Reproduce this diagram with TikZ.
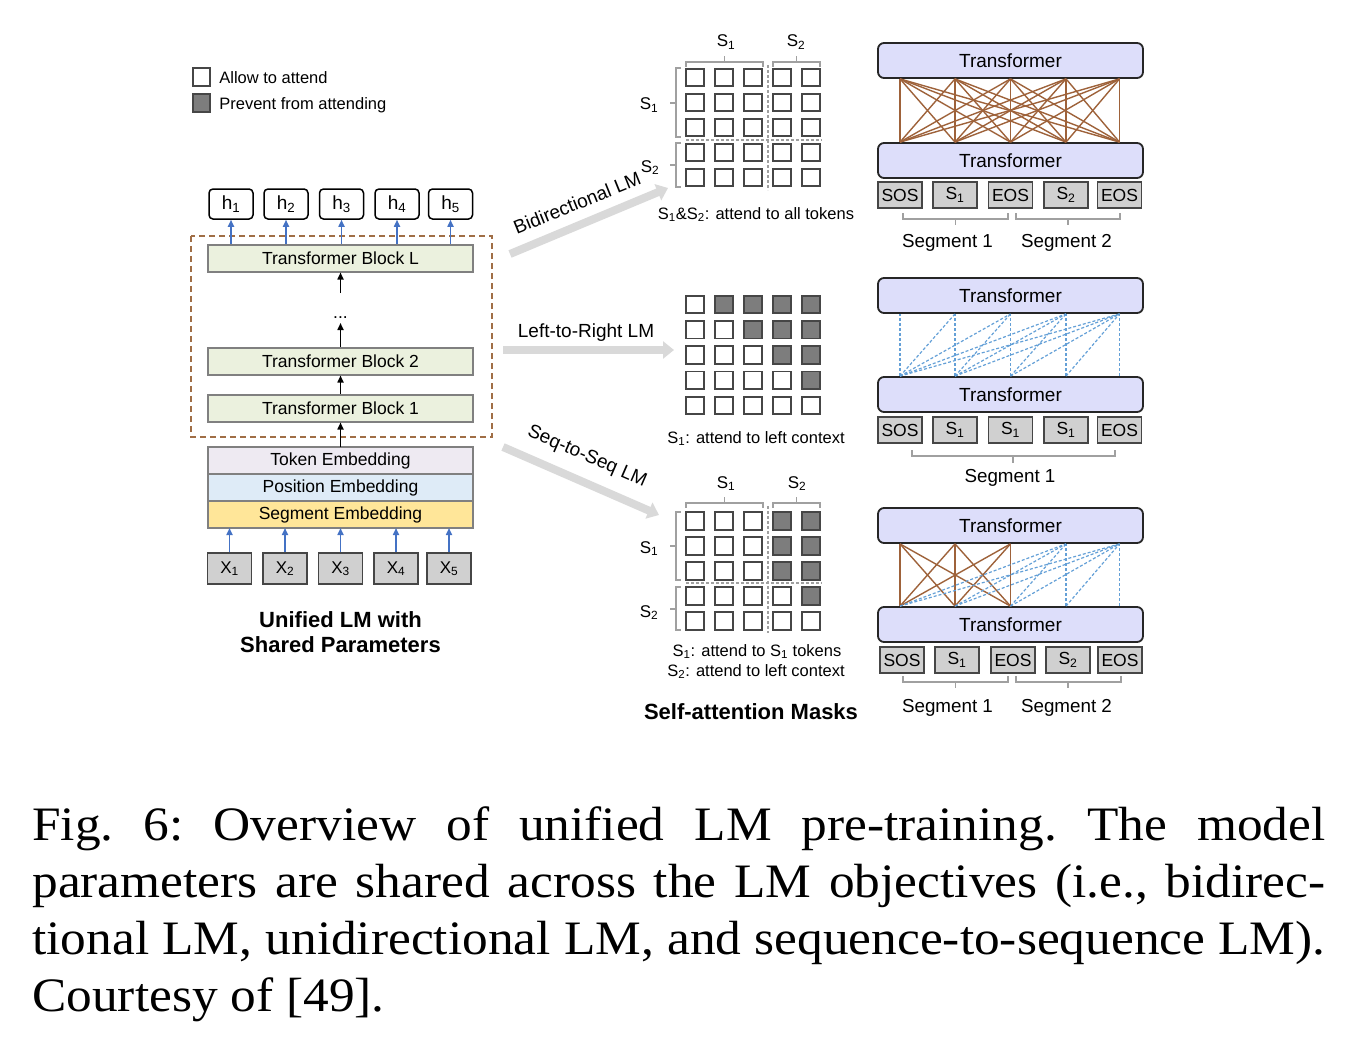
\documentclass[tikz,border=0pt]{standalone}
\usepackage{fontspec}
\setmainfont{Liberation Sans}
\newfontfamily\capfont[FakeStretch=1.07]{Liberation Serif}
\usetikzlibrary{arrows.meta,positioning}

\definecolor{tfFill}{RGB}{221,222,250}
\definecolor{blockFill}{RGB}{235,241,222}
\definecolor{tokFill}{RGB}{238,234,242}
\definecolor{posFill}{RGB}{222,235,247}
\definecolor{segFill}{RGB}{255,230,153}
\definecolor{boxGray}{RGB}{128,128,128}
\definecolor{inGray}{RGB}{208,208,208}
\definecolor{inLine}{RGB}{70,70,70}
\definecolor{maskGray}{RGB}{125,125,125}
\definecolor{attnBrown}{RGB}{158,98,58}
\definecolor{attnBlue}{RGB}{100,160,215}
\definecolor{arrBlue}{RGB}{68,114,196}
\definecolor{frameBrown}{RGB}{160,110,70}
\definecolor{bigGray}{RGB}{217,217,217}
\definecolor{brkGray}{RGB}{160,160,160}

\tikzset{every picture/.style={line width=0.75pt}}
\tikzset{
  lbl/.style={inner sep=0pt, font=\fontsize{#1}{#1}\selectfont},
  legbox/.style={draw=inLine, line width=1.8, minimum size=17.5, inner sep=0},
  hbox/.style={draw, rounded corners=4, line width=1.5, minimum width=44, minimum height=30, inner sep=0, lbl=19},
  blockbox/.style={draw=boxGray, fill=blockFill, line width=2, minimum width=265, minimum height=27, inner sep=0, lbl=17.5},
  embbox/.style={draw=boxGray, line width=2, minimum width=265, minimum height=27, inner sep=0, outer sep=0, lbl=17.5},
  xbox/.style={draw=inLine, fill=inGray, line width=1.5, minimum width=44, minimum height=31, inner sep=0, lbl=17},
  tfbox/.style={draw=black!85, fill=tfFill, rounded corners=6, line width=1.8, minimum width=265, minimum height=35, inner sep=0, lbl=19},
  tokbox/.style={draw=inLine, fill=inGray, line width=1.5, minimum width=44, minimum height=26, inner sep=0, lbl=17.5},
  maskcell/.style={draw=inLine, fill=white, line width=1.8, minimum size=17.5, inner sep=0},
  bracket/.style={draw=brkGray, line width=1.5},
  sepline/.style={draw=brkGray, line width=1.2, dash pattern=on 3pt off 2pt},
  fullattn/.style={draw=attnBrown, line width=1.4},
  leftattn/.style={draw=attnBlue, line width=1.2, dash pattern=on 3pt off 2pt},
  bigarr/.style={draw=bigGray, line width=8, -{Triangle[length=11pt,width=17pt]}},
  uparr/.style={line width=1.6, -{Triangle[length=7pt,width=6pt]}},
  bluearr/.style={uparr, draw=arrBlue},
}

\begin{document}
\begin{tikzpicture}[x=1pt,y=1pt,yscale=-1]
\useasboundingbox (0,0) rectangle (1372,1038);

% Legend
\node[legbox,fill=white] (allowsq) at (201.5,77) {};
\node[legbox,fill=maskGray] (preventsq) at (201.5,103) {};
\node[lbl=16.5,anchor=base west] (allowtxt) at (219,84) {Allow to attend};
\node[lbl=16.5,anchor=base west] (preventtxt) at (219,110) {Prevent from attending};

% Shared parameters frame
\draw[frameBrown, line width=1.8, dash pattern=on 6pt off 4pt] (191,236) rectangle (492,437);

% Outputs
\node[hbox] (h1) at (231,204) {h\textsubscript{1}};
\node[hbox] (h2) at (286,204) {h\textsubscript{2}};
\node[hbox] (h3) at (341.5,204) {h\textsubscript{3}};
\node[hbox] (h4) at (397,204) {h\textsubscript{4}};
\node[hbox] (h5) at (450.5,204) {h\textsubscript{5}};

% Transformer blocks
\node[blockbox] (blkL) at (340.5,258) {Transformer Block L};
\node[lbl=17.5] (dots) at (340.5,318) {...};
\coordinate (dotsTop) at (340.5,293);
\coordinate (dotsBot) at (340.5,323);
\node[blockbox] (blk2) at (340.5,361) {Transformer Block 2};
\node[blockbox] (blk1) at (340.5,408) {Transformer Block 1};

% Embeddings
\node[embbox,fill=tokFill] (tokemb) at (340.5,460.5) {Token Embedding};
\node[embbox,fill=posFill,below=0pt of tokemb] (posemb) {Position Embedding};
\node[embbox,fill=segFill,below=0pt of posemb] (segemb) {Segment Embedding};

% Inputs
\node[xbox] (x1) at (229.5,568.5) {X\textsubscript{1}};
\node[xbox] (x2) at (285,568.5) {X\textsubscript{2}};
\node[xbox] (x3) at (340.5,568.5) {X\textsubscript{3}};
\node[xbox] (x4) at (396,568.5) {X\textsubscript{4}};
\node[xbox] (x5) at (449,568.5) {X\textsubscript{5}};

% Arrows
\foreach \i in {1,...,5}{
  \draw[bluearr] (h\i.south |- blkL.north) -- (h\i.south);
  \draw[bluearr] (x\i.north) -- (x\i.north |- segemb.south);
}
\draw[uparr] (tokemb.north) -- (blk1.south);
\draw[uparr] (blk1.north) -- (blk2.south);
\draw[uparr] (blk2.north) -- (dotsBot);
\draw[uparr] (dotsTop) -- (blkL.south);

% Text Node
\node[lbl=22,font=\fontsize{22}{25}\selectfont\bfseries,align=center] (unified) at (340.5,632.5) {Unified LM with\\Shared Parameters};

% LM objectives
\coordinate (biStart) at (510,254);
\coordinate (biEnd) at (668,188);
\coordinate (lrStart) at (503,350);
\coordinate (lrEnd) at (674,350);
\coordinate (ssStart) at (503,447);
\coordinate (ssEnd) at (659,515);
\draw[bigarr] (biStart) -- (biEnd);
\draw[bigarr] (lrStart) -- (lrEnd);
\draw[bigarr] (ssStart) -- (ssEnd);
\node[lbl=19,rotate=22] (biLabel) at (577,203) {Bidirectional LM};
\node[lbl=19,anchor=base] (lrLabel) at (586,337) {Left-to-Right LM};
\node[lbl=19,rotate=-23.5] (ssLabel) at (587,457) {Seq-to-Seq LM};

% Mask: bidirectional
\draw[sepline] (768,65) -- (768,190);
\draw[sepline] (686,140) -- (822,140);
\foreach \r in {1,...,5}
  \foreach \c in {1,...,5}
    \node[maskcell] (mA-\r-\c) at ({695+29*(\c-1)},{77.5+25*(\r-1)}) {};
\draw[bracket] (686,67) -- (686,62) -- (763,62) -- (763,67) (724.5,62) -- (724.5,56);
\draw[bracket] (773,67) -- (773,62) -- (820,62) -- (820,67) (796.5,62) -- (796.5,56);
\draw[bracket] (681,68) -- (676,68) -- (676,137) -- (681,137) (676,103) -- (670,103);
\draw[bracket] (681,143) -- (676,143) -- (676,187) -- (681,187) (676,165) -- (670,165);
\node[lbl=17,anchor=base] (aS1top) at (726,47) {S\textsubscript{1}};
\node[lbl=17,anchor=base] (aS2top) at (796,47) {S\textsubscript{2}};
\node[lbl=17,anchor=base] (aS1left) at (649,110) {S\textsubscript{1}};
\node[lbl=17,anchor=base] (aS2left) at (650,172) {S\textsubscript{2}};
\node[lbl=16.5,anchor=base] (aNote) at (756,219) {S\textsubscript{1}\&S\textsubscript{2}: attend to all tokens};

% Mask: left-to-right
\foreach \r in {1,...,5}
  \foreach \c in {1,...,5}{
    \ifnum\c>\r \def\cellfill{maskGray}\else\def\cellfill{white}\fi
    \node[maskcell,fill=\cellfill] (mB-\r-\c) at ({695+29*(\c-1)},{304.5+25.25*(\r-1)}) {};
  }
\node[lbl=16.5,anchor=base] (bNote) at (756,443) {S\textsubscript{1}: attend to left context};

% Mask: seq-to-seq
\draw[sepline] (768,506) -- (768,633);
\draw[sepline] (686,583) -- (822,583);
\foreach \r in {1,...,5}
  \foreach \c in {1,...,5}{
    \def\cellfill{white}
    \ifnum\c>3 \ifnum\c>\r \def\cellfill{maskGray}\fi\fi
    \node[maskcell,fill=\cellfill] (mC-\r-\c) at ({695+29*(\c-1)},{521+25*(\r-1)}) {};
  }
\draw[bracket] (686,508) -- (686,503) -- (763,503) -- (763,508) (724.5,503) -- (724.5,497);
\draw[bracket] (773,508) -- (773,503) -- (820,503) -- (820,508) (796.5,503) -- (796.5,497);
\draw[bracket] (681,512) -- (676,512) -- (676,580) -- (681,580) (676,546) -- (670,546);
\draw[bracket] (681,587) -- (676,587) -- (676,630) -- (681,630) (676,609) -- (670,609);
\node[lbl=17,anchor=base] (cS1top) at (726,488) {S\textsubscript{1}};
\node[lbl=17,anchor=base] (cS2top) at (797,488) {S\textsubscript{2}};
\node[lbl=17,anchor=base] (cS1left) at (649,553) {S\textsubscript{1}};
\node[lbl=17,anchor=base] (cS2left) at (649,617) {S\textsubscript{2}};
\node[lbl=16.5,anchor=base] (cNote1) at (757,656) {S\textsubscript{1}: attend to S\textsubscript{1} tokens};
\node[lbl=16.5,anchor=base] (cNote2) at (756,676) {S\textsubscript{2}: attend to left context};
\node[lbl=22,font=\fontsize{22}{22}\selectfont\bfseries,anchor=base] (maskTitle) at (751,719) {Self-attention Masks};

% Panel A: bidirectional
\node[tfbox] (aTop) at (1010.5,60.5) {Transformer};
\node[tfbox] (aBot) at (1010.5,160.5) {Transformer};
\node[tokbox] (tokA1) at (900,195) {SOS};
\node[tokbox] (tokA2) at (955,195) {S\textsubscript{1}};
\node[tokbox] (tokA3) at (1010.5,195) {EOS};
\node[tokbox] (tokA4) at (1066,195) {S\textsubscript{2}};
\node[tokbox] (tokA5) at (1119.5,195) {EOS};
\foreach \i in {1,...,5}
  \foreach \j in {1,...,5}
    \draw[fullattn] (tokA\i |- aBot.north) -- (tokA\j |- aTop.south);
\draw[bracket] (903,213) -- (903,219) -- (1008,219) -- (1008,213) (955.5,219) -- (955.5,225);
\draw[bracket] (1016,213) -- (1016,219) -- (1120,219) -- (1120,213) (1068,219) -- (1068,225);
\node[lbl=18.8,anchor=base] (aSeg1) at (947.5,247) {Segment 1};
\node[lbl=18.8,anchor=base] (aSeg2) at (1066.5,247) {Segment 2};

% Panel B: left-to-right
\node[tfbox] (bTop) at (1010.5,295.5) {Transformer};
\node[tfbox] (bBot) at (1010.5,394.5) {Transformer};
\node[tokbox] (tokB1) at (900,430) {SOS};
\node[tokbox] (tokB2) at (955,430) {S\textsubscript{1}};
\node[tokbox] (tokB3) at (1010.5,430) {S\textsubscript{1}};
\node[tokbox] (tokB4) at (1066,430) {S\textsubscript{1}};
\node[tokbox] (tokB5) at (1119.5,430) {EOS};
\foreach \i in {1,...,5}
  \foreach \j in {\i,...,5}
    \draw[leftattn] (tokB\i |- bBot.north) -- (tokB\j |- bTop.south);
\draw[bracket] (912,450) -- (912,456) -- (1115,456) -- (1115,450) (1013,456) -- (1013,463);
\node[lbl=18.8,anchor=base] (bSeg1) at (1010,482) {Segment 1};

% Panel C: seq-to-seq
\node[tfbox] (cTop) at (1010.5,525.5) {Transformer};
\node[tfbox] (cBot) at (1010.5,624.5) {Transformer};
\node[tokbox] (tokC1) at (902,660) {SOS};
\node[tokbox] (tokC2) at (957,660) {S\textsubscript{1}};
\node[tokbox] (tokC3) at (1013,660) {EOS};
\node[tokbox] (tokC4) at (1068,660) {S\textsubscript{2}};
\node[tokbox] (tokC5) at (1120,660) {EOS};
\foreach \i in {1,2,3}
  \foreach \j in {1,2,3}
    \draw[fullattn] (tokA\i |- cBot.north) -- (tokA\j |- cTop.south);
\foreach \j in {4,5}
  \foreach \i in {1,...,\j}
    \draw[leftattn] (tokA\i |- cBot.north) -- (tokA\j |- cTop.south);
\draw[bracket] (903,676) -- (903,682) -- (1008,682) -- (1008,676) (955.5,682) -- (955.5,688);
\draw[bracket] (1016,676) -- (1016,682) -- (1121,682) -- (1121,676) (1068,682) -- (1068,688);
\node[lbl=18.8,anchor=base] (cSeg1) at (947.5,712) {Segment 1};
\node[lbl=18.8,anchor=base] (cSeg2) at (1066.5,712) {Segment 2};

% Caption
\node[anchor=north west, inner sep=0pt, align=left,
      font=\capfont\fontsize{48}{57}\selectfont\frenchspacing] (caption) at (32,806)
  {\makebox[1293pt][s]{Fig.~6: Overview of unified LM pre-training. The model}\\
   \makebox[1293pt][s]{parameters are shared across the LM objectives (i.e., bidirec-}\\
   \makebox[1293pt][s]{tional LM, unidirectional LM, and sequence-to-sequence LM).}\\
   Courtesy of [49].};
\end{tikzpicture}
\end{document}
